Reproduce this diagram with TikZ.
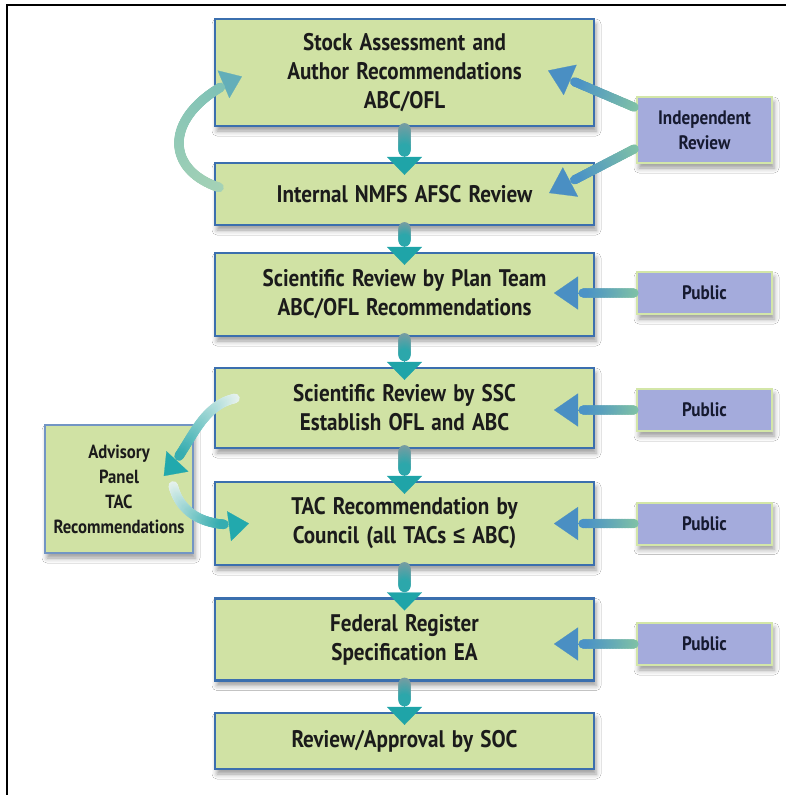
\documentclass[tikz,border=0pt]{standalone}
\usepackage{fontspec}
\setmainfont{PT Sans}[FakeStretch=0.88, WordSpace=1.35]
\newfontfamily\symfont{Liberation Sans}[FakeStretch=0.88]
\usetikzlibrary{arrows.meta,calc,decorations.markings,shadows.blur}

\definecolor{boxfill}{HTML}{D0E2A4}
\definecolor{boxline}{HTML}{3B6FAE}
\definecolor{sidefill}{HTML}{A4ABDC}
\definecolor{sideline}{HTML}{D3E6A8}
\definecolor{advline}{HTML}{7295C4}
\definecolor{txt}{HTML}{1B1B1B}
\definecolor{sidetxt}{HTML}{161A30}
\definecolor{vtop}{HTML}{7A9CA2}
\definecolor{vbot}{HTML}{2CA7AB}
\definecolor{vhead}{HTML}{1FA4A8}
\definecolor{pstart}{HTML}{80C2A6}
\definecolor{pend}{HTML}{4B93C6}
\definecolor{phead}{HTML}{4A8FC3}
\definecolor{lstart}{HTML}{A5D2B6}
\definecolor{lend}{HTML}{80C2B6}
\definecolor{lhead}{HTML}{63AEB9}
\definecolor{astart}{HTML}{E8F3EE}
\definecolor{aend}{HTML}{35ADB0}
\definecolor{ahead}{HTML}{22A9AD}

\tikzset{
  softshadow/.style={blur shadow={shadow xshift=2pt, shadow yshift=-5pt,
      shadow blur radius=5pt, shadow opacity=40}},
  stepbox/.style={draw=boxline, line width=2.2pt, fill=boxfill, softshadow,
      minimum width=379pt, inner sep=0pt, align=center, text=txt,
      font=\bfseries\fontsize{24}{29}\selectfont},
  sidebox/.style={draw=sideline, line width=2pt, fill=sidefill, softshadow,
      minimum width=135pt, inner sep=0pt, align=center, text=sidetxt,
      font=\bfseries\fontsize{19.5}{25}\selectfont},
  advbox/.style={draw=advline, line width=1.6pt, fill=boxfill, softshadow,
      minimum width=148pt, minimum height=128pt, inner sep=0pt, align=center,
      text=txt, font=\bfseries\fontsize{19}{25}\selectfont},
  % thick connector: shaft shaded from #1 to #2, head colour #3,
  % head width #4, head length #5, shaft half width #6
  flow/.style n args={6}{
    draw=#3, line width=0.2pt, -{Triangle[width=#4,length=#5,color=#3]},
    postaction={decorate, decoration={markings,
      mark=between positions 2pt and -#5-#6 step 0.6pt with {
        \pgfmathtruncatemacro\gp{max(0,min(100,\pgfkeysvalueof{/pgf/decoration/mark info/sequence number}*0.6/(\pgfdecoratedpathlength-#5-#6-2pt)*100))}
        \fill[#2!\gp!#1] (0,0) circle (#6);}}}},
  down/.style={flow={vtop}{vbot}{vhead}{35pt}{18pt}{6pt}},
  side/.style={flow={pstart}{pend}{phead}{33pt}{24pt}{4.6pt}},
  loop/.style={flow={lstart}{lend}{lhead}{30pt}{20pt}{4.8pt}},
  adv/.style={flow={astart}{aend}{ahead}{30pt}{20pt}{4.8pt}},
}

\begin{document}
\begin{tikzpicture}[x=1pt,y=-1pt]
\useasboundingbox (0,0) rectangle (785,795);
\fill[white] (0,0) rectangle (785,795);
% frame
\draw[line width=2.5pt] (7,797) -- (7,5) -- (787,5);

% main chain
\node[stepbox, minimum height=107pt] (b1) at (404.5,72.5)
  {Stock Assessment and\\Author Recommendations\\ABC/OFL};
\node[stepbox, minimum height=62pt] (b2) at (404.5,194)
  {Internal NMFS AFSC Review};
\node[stepbox, minimum height=83pt] (b3) at (404.5,294.5)
  {Scientific Review by Plan Team\\ABC/OFL Recommendations};
\node[stepbox, minimum height=80pt] (b4) at (404.5,408)
  {Scientific Review by SSC\\Establish OFL and ABC};
\node[stepbox, minimum height=83pt] (b5) at (404.5,523.5)
  {TAC Recommendation by\\Council (all TACs {\symfont ≤} ABC)};
\node[stepbox, minimum height=82pt] (b6) at (404.5,639.5)
  {Federal Register\\Specification EA};
\node[stepbox, minimum height=56pt] (b7) at (404.5,741)
  {Review/Approval by SOC};

% inputs
\node[sidebox, minimum height=66pt] (ir) at (704.5,130) {Independent\\Review};
\node[sidebox, minimum height=42pt] (p1) at (704.5,293) {Public};
\node[sidebox, minimum height=42pt] (p2) at (704.5,410) {Public};
\node[sidebox, minimum height=42pt] (p3) at (704.5,523.5) {Public};
\node[sidebox, minimum height=42pt] (p4) at (704.5,644) {Public};
\node[advbox] (ap) at (119,489) {Advisory\\Panel\\TAC\\Recommendations};

% downward flow
\draw[down] (b1.south) -- ($(b2.north)+(0,13)$);
\draw[down] (b2.south) -- ($(b3.north)+(0,13)$);
\draw[down] (b3.south) -- ($(b4.north)+(0,13)$);
\draw[down] (b4.south) -- ($(b5.north)+(0,13)$);
\draw[down] (b5.south) -- ($(b6.north)+(0,13)$);
\draw[down] (b6.south) -- ($(b7.north)+(0,13)$);

% review input
\draw[side] ($(ir.west)+(0,-22)$) -- ($(b1.east)+(-47,-2)$);
\draw[side] ($(ir.west)+(0,18)$) -- ($(b2.east)+(-46,-1)$);

% public input
\draw[side] (p1.west) -- ($(p1.west)+(-82,0)$);
\draw[side] (p2.west) -- ($(p2.west)+(-82,0)$);
\draw[side] (p3.west) -- ($(p3.west)+(-82,0)$);
\draw[side] (p4.west) -- ($(p4.west)+(-82,0)$);

% feedback loop
\draw[loop] ($(b2.west)+(7,-6)$) .. controls ($(b2.west)+(-52,-24)$)
  and ($(b1.west)+(-52,38)$) .. ($(b1.west)+(28,4)$);

% advisory panel
\draw[adv] ($(b4.west)+(23,-10)$) .. controls ($(b4.west)+(-15,-3)$)
  and ($(ap.east)+(-3,-42)$) .. ($(ap.east)+(-30,-13)$);
\draw[adv] ($(ap.east)+(-21,-5)$) .. controls ($(ap.east)+(-15,23)$)
  and ($(b5.west)+(-10,6)$) .. ($(b5.west)+(35,0)$);
\end{tikzpicture}
\end{document}
